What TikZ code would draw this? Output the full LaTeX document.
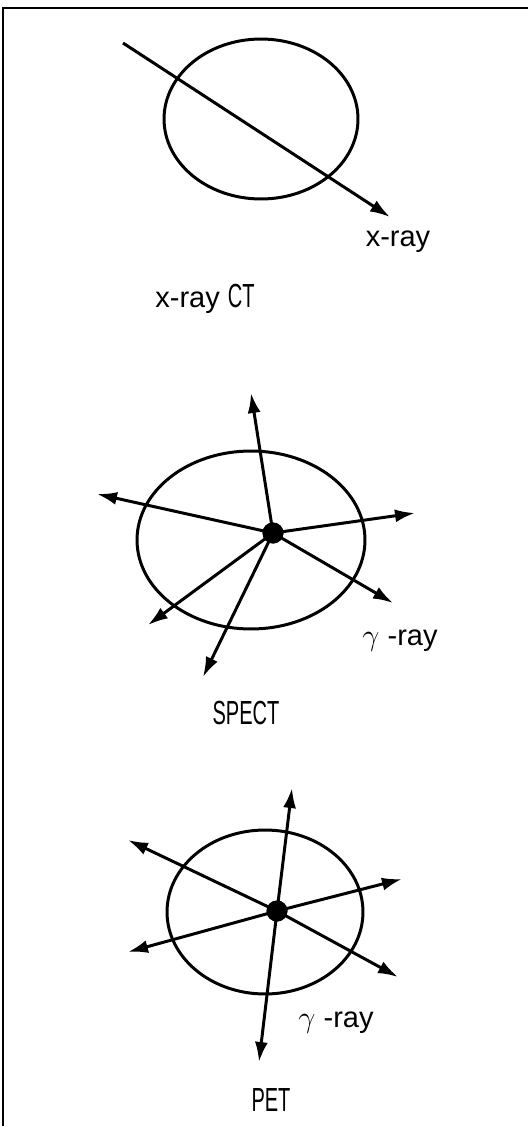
\documentclass[tikz,border=0pt]{standalone}
\usepackage{fontspec}
\setmainfont{Liberation Sans}
\newfontfamily\narrowsans{Liberation Sans}[FakeStretch=0.6]
\usetikzlibrary{shapes,arrows.meta,positioning}
\tikzset{
    body/.style={ellipse, draw, line width=1.7pt, inner sep=0pt, outer sep=0pt},
    source/.style={circle, fill=black, inner sep=0pt, minimum size=0.42cm},
    ray/.style={line width=1.7pt, -{Latex[length=0.4cm, width=0.26cm]}},
    raylabel/.style={font=\fontsize{16.5}{19}\selectfont},
    modality/.style={font=\fontsize{19}{22}\selectfont\narrowsans},
    frame/.style={line width=1.2pt},
}

\begin{document}
\begin{tikzpicture}[x=0.02cm, y=-0.02cm]
    \useasboundingbox (0,0) rectangle (528,1126);
    \draw[frame] (528,8) -- (3,8) -- (3,1126);

    % x-ray CT
    \node[body, minimum width=3.88cm, minimum height=3.2cm] (ct) at (261,119) {};
    \coordinate (ctin) at (123,43);
    \coordinate (ctout) at (390,217);
    \draw[ray] (ctin) -- (ctout);
    \node[raylabel] (xlab) at (398,242) {x-ray};
    \node[raylabel] (ctname) at (205,299) {x-ray {\fontsize{19}{22}\selectfont\narrowsans CT}};

    % SPECT
    \node[body, minimum width=4.56cm, minimum height=3.56cm] (spbody) at (251,540) {};
    \node[source] (sp) at (273,533) {};
    \coordinate (sp1) at (251,393);
    \coordinate (sp2) at (97,494);
    \coordinate (sp3) at (415,513);
    \coordinate (sp4) at (393,603);
    \coordinate (sp5) at (148,625);
    \coordinate (sp6) at (203,677);
    \foreach \t in {sp1,sp2,sp3,sp4,sp5,sp6}
        \draw[ray] (sp.center) -- (\t);
    \node[source] at (sp) {};
    \node[raylabel] (splab) at (400,641) {$\gamma$ -ray};
    \node[modality] (spname) at (246,713) {SPECT};

    % PET
    \node[body, minimum width=3.92cm, minimum height=3.28cm] (petbody) at (265,912) {};
    \node[source] (pet) at (277,911) {};
    \coordinate (pt1) at (292,788);
    \coordinate (pt2) at (259,1062);
    \coordinate (pt3) at (128,840);
    \coordinate (pt4) at (398,977);
    \coordinate (pt5) at (402,879);
    \coordinate (pt6) at (128,952);
    \foreach \t in {pt1,pt2,pt3,pt4,pt5,pt6}
        \draw[ray] (pet.center) -- (\t);
    \node[source] at (pet) {};
    \node[raylabel] (petlab) at (336,1023) {$\gamma$ -ray};
    \node[modality] (petname) at (271,1100) {PET};
\end{tikzpicture}
\end{document}
